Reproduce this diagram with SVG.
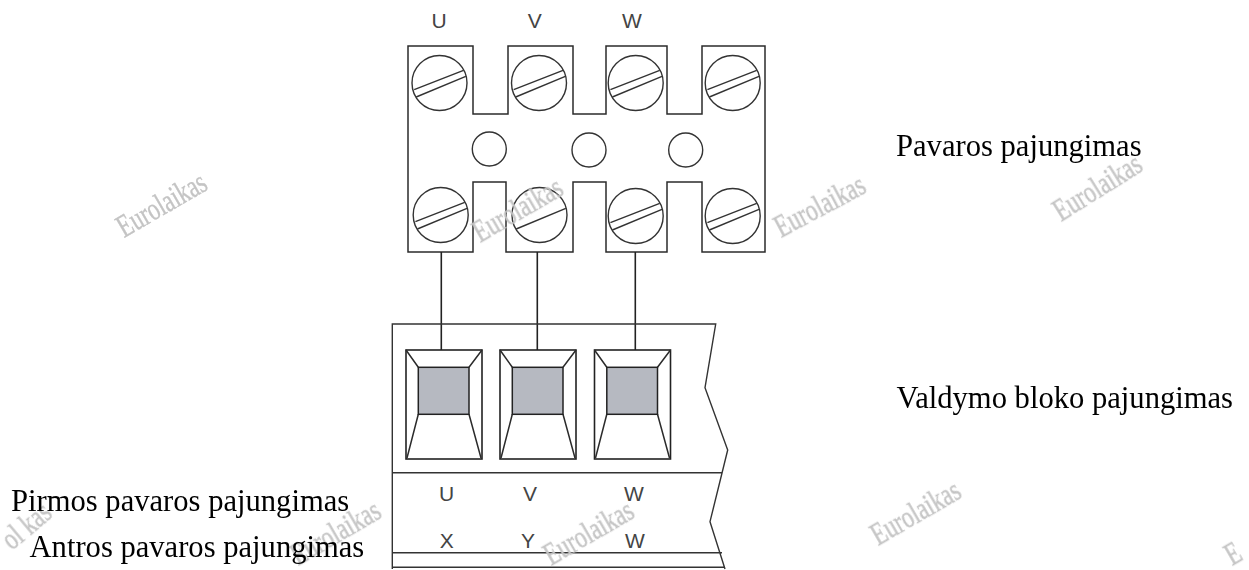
<svg xmlns="http://www.w3.org/2000/svg" width="1249" height="570" viewBox="0 0 1249 570">
<style>
.l{fill:none;stroke:#2b2b2b;stroke-width:1.5}
.s{fill:none;stroke:#333;stroke-width:1.4}
.t{stroke:#222;stroke-width:1.6;fill:none}
.g{fill:#b6b9c1;stroke:#222;stroke-width:1.5}
.c{font-family:"Liberation Sans",Arial,sans-serif;font-size:21px;fill:#444;text-anchor:middle}
.k{font-family:"Liberation Serif","Times New Roman",serif;font-size:30.600px;fill:#000}
.w{font-family:"Liberation Serif","Times New Roman",serif;font-size:32px;fill:#c4c4c4;stroke:#c4c4c4;stroke-width:.4}
</style>
<defs>
<g id="screw"><circle r="27.5" class="s"/><path class="s" d="M-25.3 6.700L24-12.700M-23.300 14L26.300-6.700"/></g>
<g id="screw1"><circle r="27.5" class="s"/><path class="s" d="M-23.300 14L26.300-6.700"/></g>
<g id="term"><rect x="0" y="0" width="76" height="109" class="t"/><path class="l" d="M0 0L12.300 17.300M76 0L63 17.300M12.300 64.300L1 108M63 64.300L75 108"/><rect x="12.300" y="17.300" width="50.700" height="47" class="g"/></g>
<filter id="soft" x="-10%" y="-30%" width="120%" height="160%"><feGaussianBlur stdDeviation="0.6"/></filter>
</defs>
<rect width="1249" height="570" fill="#fff"/>
<g id="drive-block">
<path class="l" d="M408 46H473V114H508V46H573V114H606V46H667V114H702V46H765V252H702V182H667V252H606V182H573V252H506V182H473V252H408Z"/>
<use href="#screw" x="439.500" y="83"/><use href="#screw" x="539" y="83"/><use href="#screw" x="635.700" y="83"/><use href="#screw" x="732.700" y="83"/>
<use href="#screw" x="440.700" y="215"/><use href="#screw1" x="539.500" y="215"/><use href="#screw" x="635.700" y="216"/><use href="#screw" x="732.700" y="216"/>
<circle cx="489.300" cy="149" r="17" class="s"/><circle cx="589" cy="150" r="17" class="s"/><circle cx="685.700" cy="150" r="17" class="s"/>
<text class="c" x="439" y="28">U</text><text class="c" x="534.700" y="28">V</text><text class="c" x="632" y="28">W</text>
</g>
<g id="connectors">
<path class="t" d="M441.300 252V350M537.300 252V350M635.300 252V350"/>
</g>
<g id="control-block">
<path class="s" d="M392.300 569V324H715.700L705 387.700L727.700 450L710 521.700L725 569M392.300 472.700H721.700M392.300 552.700H722M392.300 567.300H724"/>
<use href="#term" x="406" y="350"/><use href="#term" x="500" y="350"/><use href="#term" x="594.500" y="350"/>
<text class="c" x="446.700" y="500.500">U</text><text class="c" x="530" y="500.500">V</text><text class="c" x="634" y="500.500">W</text>
<text class="c" x="446.700" y="547.500">X</text><text class="c" x="528" y="547.500">Y</text><text class="c" x="635" y="547.500">W</text>
</g>
<g id="watermarks" filter="url(#soft)">
<text class="w" transform="translate(124 238) rotate(-30) scale(.72 1)">Eurolaikas</text>
<text class="w" transform="translate(480 243) rotate(-30) scale(.72 1)">Eurolaikas</text>
<text class="w" transform="translate(781 238) rotate(-28) scale(.72 1)">Eurolaikas</text>
<text class="w" transform="translate(1061 222) rotate(-32) scale(.72 1)">Eurolaikas</text>
<text class="w" transform="translate(878 546) rotate(-30) scale(.72 1)">Eurolaikas</text>
<text class="w" transform="translate(551 566) rotate(-30) scale(.72 1)">Eurolaikas</text>
<text class="w" transform="translate(298 566) rotate(-30) scale(.72 1)">Eurolaikas</text>
<text class="w" transform="translate(12 551) rotate(-40) scale(.72 1)">ol kas</text>
<text class="w" transform="translate(1232 566) rotate(-30) scale(.72 1)">E</text>
</g>
<g id="labels">
<text class="k" x="896" y="156">Pavaros pajungimas</text>
<text class="k" x="896.500" y="408">Valdymo bloko pajungimas</text>
<text class="k" x="11" y="511">Pirmos pavaros pajungimas</text>
<text class="k" x="29.500" y="557">Antros pavaros pajungimas</text>
</g>
</svg>
